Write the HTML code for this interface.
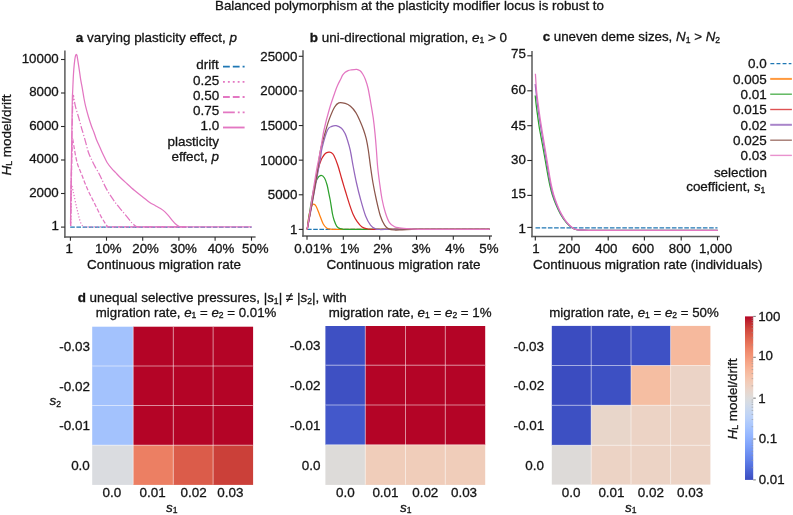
<!DOCTYPE html>
<html><head><meta charset="utf-8"><title>Balanced polymorphism figure</title>
<style>html,body{margin:0;padding:0;background:#fff;}body{width:793px;height:515px;overflow:hidden;font-family:"Liberation Sans", sans-serif;}svg{display:block;will-change:transform;}</style>
</head><body>
<svg width="793" height="515" viewBox="0 0 793 515" font-family='"Liberation Sans", sans-serif'><text x="215.01" y="10.20" font-size="13.34" text-anchor="start" fill="#141414" stroke="#141414" stroke-width="0.30" >Balanced polymorphism at the plasticity modifier locus is robust to</text>
<text x="75.86" y="42.20" font-size="13.45" text-anchor="start" fill="#141414" stroke="#141414" stroke-width="0.30" ><tspan font-weight="bold">a</tspan> varying plasticity effect, <tspan font-style="italic">p</tspan></text>
<line x1="64.90" y1="50.40" x2="64.90" y2="237.65" stroke="#5a5a5a" stroke-width="1.50" />
<line x1="64.15" y1="236.90" x2="255.60" y2="236.90" stroke="#5a5a5a" stroke-width="1.50" />
<line x1="61.00" y1="59.50" x2="64.90" y2="59.50" stroke="#2a2a2a" stroke-width="1.10" />
<text x="21.73" y="62.50" font-size="13.30" text-anchor="start" fill="#141414" stroke="#141414" stroke-width="0.30" >10000</text>
<line x1="61.00" y1="93.00" x2="64.90" y2="93.00" stroke="#2a2a2a" stroke-width="1.10" />
<text x="29.14" y="96.00" font-size="13.30" text-anchor="start" fill="#141414" stroke="#141414" stroke-width="0.30" >8000</text>
<line x1="61.00" y1="126.50" x2="64.90" y2="126.50" stroke="#2a2a2a" stroke-width="1.10" />
<text x="29.14" y="129.50" font-size="13.30" text-anchor="start" fill="#141414" stroke="#141414" stroke-width="0.30" >6000</text>
<line x1="61.00" y1="160.00" x2="64.90" y2="160.00" stroke="#2a2a2a" stroke-width="1.10" />
<text x="29.14" y="163.00" font-size="13.30" text-anchor="start" fill="#141414" stroke="#141414" stroke-width="0.30" >4000</text>
<line x1="61.00" y1="193.50" x2="64.90" y2="193.50" stroke="#2a2a2a" stroke-width="1.10" />
<text x="29.14" y="196.50" font-size="13.30" text-anchor="start" fill="#141414" stroke="#141414" stroke-width="0.30" >2000</text>
<line x1="61.00" y1="227.10" x2="64.90" y2="227.10" stroke="#2a2a2a" stroke-width="1.10" />
<text x="51.46" y="230.10" font-size="13.30" text-anchor="start" fill="#141414" stroke="#141414" stroke-width="0.30" >1</text>
<line x1="70.40" y1="236.90" x2="70.40" y2="240.70" stroke="#2a2a2a" stroke-width="1.10" />
<text x="65.49" y="253.00" font-size="13.30" text-anchor="start" fill="#141414" stroke="#141414" stroke-width="0.30" >1</text>
<line x1="106.50" y1="236.90" x2="106.50" y2="240.70" stroke="#2a2a2a" stroke-width="1.10" />
<text x="94.99" y="253.00" font-size="13.30" text-anchor="start" fill="#141414" stroke="#141414" stroke-width="0.30" >10%</text>
<line x1="142.70" y1="236.90" x2="142.70" y2="240.70" stroke="#2a2a2a" stroke-width="1.10" />
<text x="132.24" y="253.00" font-size="13.30" text-anchor="start" fill="#141414" stroke="#141414" stroke-width="0.30" >20%</text>
<line x1="178.90" y1="236.90" x2="178.90" y2="240.70" stroke="#2a2a2a" stroke-width="1.10" />
<text x="170.29" y="253.00" font-size="13.30" text-anchor="start" fill="#141414" stroke="#141414" stroke-width="0.30" >30%</text>
<line x1="215.10" y1="236.90" x2="215.10" y2="240.70" stroke="#2a2a2a" stroke-width="1.10" />
<text x="207.69" y="253.00" font-size="13.30" text-anchor="start" fill="#141414" stroke="#141414" stroke-width="0.30" >40%</text>
<line x1="251.50" y1="236.90" x2="251.50" y2="240.70" stroke="#2a2a2a" stroke-width="1.10" />
<text x="242.07" y="253.00" font-size="13.30" text-anchor="start" fill="#141414" stroke="#141414" stroke-width="0.30" >50%</text>
<text x="87.01" y="269.00" font-size="13.45" text-anchor="start" fill="#141414" stroke="#141414" stroke-width="0.30" >Continuous migration rate</text>
<text transform="translate(10.8,135) rotate(-90)" font-size="13.45" text-anchor="middle" fill="#141414" stroke="#141414" stroke-width="0.30"><tspan font-style="italic">H</tspan><tspan font-size="8.6" dy="1.6">L</tspan><tspan dy="-1.6">&#8203;</tspan> model/drift</text>
<line x1="70.20" y1="227.10" x2="251.60" y2="227.10" stroke="#1f77b4" stroke-width="1.25" stroke-dasharray="4.6,1.6"/>
<path d="M70.50,224.10 C70.55,220.08 70.70,207.35 70.80,200.00 C70.90,192.65 70.98,187.50 71.10,180.00 C71.22,172.50 71.37,163.33 71.50,155.00 C71.63,146.67 71.77,139.17 71.90,130.00 C72.03,120.83 72.17,106.53 72.30,100.00 C72.43,93.47 72.55,94.28 72.70,90.80 C72.85,87.32 73.02,82.67 73.20,79.10 C73.38,75.53 73.53,72.63 73.80,69.40 C74.07,66.17 74.50,62.02 74.80,59.70 C75.10,57.38 75.35,56.38 75.60,55.50 C75.85,54.62 76.07,54.40 76.30,54.40 C76.53,54.40 76.77,54.62 77.00,55.50 C77.23,56.38 77.33,57.38 77.70,59.70 C78.07,62.02 78.72,66.17 79.20,69.40 C79.68,72.63 80.07,75.87 80.60,79.10 C81.13,82.33 81.83,85.57 82.40,88.80 C82.97,92.03 83.45,95.52 84.00,98.50 C84.55,101.48 84.93,103.57 85.70,106.70 C86.47,109.83 87.62,114.00 88.60,117.30 C89.58,120.60 90.70,123.97 91.60,126.50 C92.50,129.03 93.20,130.33 94.00,132.50 C94.80,134.67 95.38,136.95 96.40,139.50 C97.42,142.05 98.90,145.13 100.10,147.80 C101.30,150.47 102.43,153.05 103.60,155.50 C104.77,157.95 105.73,160.30 107.10,162.50 C108.47,164.70 110.38,167.02 111.80,168.70 C113.22,170.38 114.32,171.27 115.60,172.60 C116.88,173.93 117.80,175.03 119.50,176.70 C121.20,178.37 123.28,180.30 125.80,182.60 C128.32,184.90 131.68,188.03 134.60,190.50 C137.52,192.97 140.78,195.42 143.30,197.40 C145.82,199.38 147.73,201.05 149.70,202.40 C151.67,203.75 153.30,204.47 155.10,205.50 C156.90,206.53 158.82,207.50 160.50,208.60 C162.18,209.70 163.77,210.80 165.20,212.10 C166.63,213.40 167.93,215.03 169.10,216.40 C170.27,217.77 171.17,219.07 172.20,220.30 C173.23,221.53 174.27,222.83 175.30,223.80 C176.33,224.77 177.50,225.60 178.40,226.10 C179.30,226.60 179.43,226.68 180.70,226.80 C181.97,226.92 185.12,226.80 186.00,226.80 L251.6,226.8" fill="none" stroke="#e377c2" stroke-width="1.25" stroke-linejoin="round" />
<path d="M70.60,226.00 C70.67,221.67 70.83,211.00 71.00,200.00 C71.17,189.00 71.38,173.33 71.60,160.00 C71.82,146.67 72.05,130.67 72.30,120.00 C72.55,109.33 72.73,99.00 73.10,96.00 C73.47,93.00 74.02,99.90 74.50,102.00 C74.98,104.10 75.27,105.88 76.00,108.60 C76.73,111.32 77.93,114.90 78.90,118.30 C79.87,121.70 81.18,126.80 81.80,129.00 C82.42,131.20 81.98,129.38 82.60,131.50 C83.22,133.62 84.53,138.23 85.50,141.70 C86.47,145.17 87.43,149.40 88.40,152.30 C89.37,155.20 90.17,156.67 91.30,159.10 C92.43,161.53 93.90,164.47 95.20,166.90 C96.50,169.33 98.08,171.80 99.10,173.70 C100.12,175.60 100.08,175.77 101.30,178.30 C102.52,180.83 104.67,185.72 106.40,188.90 C108.13,192.08 109.92,194.73 111.70,197.40 C113.48,200.07 115.32,202.58 117.10,204.90 C118.88,207.22 120.63,209.17 122.40,211.30 C124.17,213.43 126.10,215.75 127.70,217.70 C129.30,219.65 130.83,221.72 132.00,223.00 C133.17,224.28 133.95,224.77 134.70,225.40 C135.45,226.03 136.20,226.57 136.50,226.80 L186,226.8" fill="none" stroke="#e377c2" stroke-width="1.25" stroke-dasharray="7.5,1.9,1.2,1.9" stroke-linejoin="round" />
<path d="M70.60,226.00 C70.70,220.00 70.98,201.83 71.20,190.00 C71.42,178.17 71.70,163.47 71.90,155.00 C72.10,146.53 72.08,140.78 72.40,139.20 C72.72,137.62 73.32,142.98 73.80,145.50 C74.28,148.02 74.73,151.38 75.30,154.30 C75.87,157.22 76.47,160.42 77.20,163.00 C77.93,165.58 78.85,167.63 79.70,169.80 C80.55,171.97 81.40,173.72 82.30,176.00 C83.20,178.28 84.10,181.00 85.10,183.50 C86.10,186.00 87.23,188.68 88.30,191.00 C89.37,193.32 90.43,195.27 91.50,197.40 C92.57,199.53 93.63,201.67 94.70,203.80 C95.77,205.93 96.83,208.07 97.90,210.20 C98.97,212.33 100.03,214.65 101.10,216.60 C102.17,218.55 103.42,220.48 104.30,221.90 C105.18,223.32 105.78,224.28 106.40,225.10 C107.02,225.92 107.73,226.52 108.00,226.80 L186,226.8" fill="none" stroke="#e377c2" stroke-width="1.25" stroke-dasharray="4.3,1.9" stroke-linejoin="round" />
<path d="M70.60,226.00 C70.67,222.50 70.82,211.63 71.00,205.00 C71.18,198.37 71.32,188.35 71.70,186.20 C72.08,184.05 72.77,189.88 73.30,192.10 C73.83,194.32 74.37,197.02 74.90,199.50 C75.43,201.98 75.97,204.68 76.50,207.00 C77.03,209.32 77.57,211.27 78.10,213.40 C78.63,215.53 79.17,218.02 79.70,219.80 C80.23,221.58 80.77,223.08 81.30,224.10 C81.83,225.12 82.28,225.45 82.90,225.90 C83.52,226.35 84.65,226.65 85.00,226.80 L186,226.8" fill="none" stroke="#e377c2" stroke-width="1.25" stroke-dasharray="1.2,1.9" stroke-linejoin="round" />
<text x="196.37" y="69.40" font-size="13.45" text-anchor="start" fill="#141414" stroke="#141414" stroke-width="0.30" >drift</text>
<path d="M223.0,66.60 L244.6,66.60" fill="none" stroke="#1f77b4" stroke-width="1.85" stroke-dasharray="6.8,3" stroke-linejoin="round" />
<text x="193.09" y="84.70" font-size="13.45" text-anchor="start" fill="#141414" stroke="#141414" stroke-width="0.30" >0.25</text>
<path d="M223.0,81.90 L244.6,81.90" fill="none" stroke="#e377c2" stroke-width="1.85" stroke-dasharray="1.85,3.05" stroke-linejoin="round" />
<text x="193.05" y="99.80" font-size="13.45" text-anchor="start" fill="#141414" stroke="#141414" stroke-width="0.30" >0.50</text>
<path d="M223.0,97.00 L244.6,97.00" fill="none" stroke="#e377c2" stroke-width="1.85" stroke-dasharray="6.8,3" stroke-linejoin="round" />
<text x="193.09" y="115.10" font-size="13.45" text-anchor="start" fill="#141414" stroke="#141414" stroke-width="0.30" >0.75</text>
<path d="M223.0,112.30 L244.6,112.30" fill="none" stroke="#e377c2" stroke-width="1.85" stroke-dasharray="11.8,3,1.85,3" stroke-linejoin="round" />
<text x="200.53" y="130.30" font-size="13.45" text-anchor="start" fill="#141414" stroke="#141414" stroke-width="0.30" >1.0</text>
<path d="M223.0,127.50 L244.6,127.50" fill="none" stroke="#e377c2" stroke-width="1.85" stroke-linejoin="round" />
<text x="167.46" y="146.40" font-size="13.45" text-anchor="start" fill="#141414" stroke="#141414" stroke-width="0.30" >plasticity</text>
<text x="219.00" y="160.90" font-size="13.45" text-anchor="end" fill="#141414" stroke="#141414" stroke-width="0.30" >effect, <tspan font-style="italic">p</tspan></text>
<text x="309.84" y="41.60" font-size="13.45" text-anchor="start" fill="#141414" stroke="#141414" stroke-width="0.30" ><tspan font-weight="bold">b</tspan> uni-directional migration, <tspan font-style="italic">e</tspan><tspan font-size="8.6" dy="1.6">1</tspan><tspan dy="-1.6">&#8203;</tspan> &gt; 0</text>
<line x1="303.00" y1="50.30" x2="303.00" y2="236.75" stroke="#5a5a5a" stroke-width="1.50" />
<line x1="302.25" y1="236.00" x2="492.00" y2="236.00" stroke="#5a5a5a" stroke-width="1.50" />
<line x1="298.80" y1="56.30" x2="303.00" y2="56.30" stroke="#2a2a2a" stroke-width="1.10" />
<text x="260.33" y="60.70" font-size="13.30" text-anchor="start" fill="#141414" stroke="#141414" stroke-width="0.30" >25000</text>
<line x1="298.80" y1="90.92" x2="303.00" y2="90.92" stroke="#2a2a2a" stroke-width="1.10" />
<text x="260.33" y="95.32" font-size="13.30" text-anchor="start" fill="#141414" stroke="#141414" stroke-width="0.30" >20000</text>
<line x1="298.80" y1="125.54" x2="303.00" y2="125.54" stroke="#2a2a2a" stroke-width="1.10" />
<text x="260.33" y="129.94" font-size="13.30" text-anchor="start" fill="#141414" stroke="#141414" stroke-width="0.30" >15000</text>
<line x1="298.80" y1="160.16" x2="303.00" y2="160.16" stroke="#2a2a2a" stroke-width="1.10" />
<text x="260.33" y="164.56" font-size="13.30" text-anchor="start" fill="#141414" stroke="#141414" stroke-width="0.30" >10000</text>
<line x1="298.80" y1="194.78" x2="303.00" y2="194.78" stroke="#2a2a2a" stroke-width="1.10" />
<text x="267.74" y="199.18" font-size="13.30" text-anchor="start" fill="#141414" stroke="#141414" stroke-width="0.30" >5000</text>
<line x1="298.80" y1="229.40" x2="303.00" y2="229.40" stroke="#2a2a2a" stroke-width="1.10" />
<text x="290.06" y="233.80" font-size="13.30" text-anchor="start" fill="#141414" stroke="#141414" stroke-width="0.30" >1</text>
<line x1="307.00" y1="236.00" x2="307.00" y2="239.80" stroke="#2a2a2a" stroke-width="1.10" />
<text x="294.28" y="253.00" font-size="13.30" text-anchor="start" fill="#141414" stroke="#141414" stroke-width="0.30" >0.01%</text>
<line x1="343.30" y1="236.00" x2="343.30" y2="239.80" stroke="#2a2a2a" stroke-width="1.10" />
<text x="339.99" y="253.00" font-size="13.30" text-anchor="start" fill="#141414" stroke="#141414" stroke-width="0.30" >1%</text>
<line x1="379.70" y1="236.00" x2="379.70" y2="239.80" stroke="#2a2a2a" stroke-width="1.10" />
<text x="373.13" y="253.00" font-size="13.30" text-anchor="start" fill="#141414" stroke="#141414" stroke-width="0.30" >2%</text>
<line x1="416.50" y1="236.00" x2="416.50" y2="239.80" stroke="#2a2a2a" stroke-width="1.10" />
<text x="411.39" y="253.00" font-size="13.30" text-anchor="start" fill="#141414" stroke="#141414" stroke-width="0.30" >3%</text>
<line x1="453.30" y1="236.00" x2="453.30" y2="239.80" stroke="#2a2a2a" stroke-width="1.10" />
<text x="445.29" y="253.00" font-size="13.30" text-anchor="start" fill="#141414" stroke="#141414" stroke-width="0.30" >4%</text>
<line x1="489.70" y1="236.00" x2="489.70" y2="239.80" stroke="#2a2a2a" stroke-width="1.10" />
<text x="479.37" y="253.00" font-size="13.30" text-anchor="start" fill="#141414" stroke="#141414" stroke-width="0.30" >5%</text>
<text x="326.51" y="269.00" font-size="13.45" text-anchor="start" fill="#141414" stroke="#141414" stroke-width="0.30" >Continuous migration rate</text>
<line x1="307.00" y1="229.40" x2="489.70" y2="229.40" stroke="#1f77b4" stroke-width="1.25" stroke-dasharray="4.6,1.6"/>
<path d="M307.20,229.40 C307.52,226.98 308.35,218.77 309.10,214.90 C309.85,211.03 310.97,208.00 311.70,206.20 C312.43,204.40 312.77,204.10 313.50,204.10 C314.23,204.10 315.08,204.40 316.10,206.20 C317.12,208.00 318.43,211.98 319.60,214.90 C320.77,217.82 321.93,221.52 323.10,223.70 C324.27,225.88 325.58,227.13 326.60,228.00 C327.62,228.87 327.97,228.67 329.20,228.90 C330.43,229.13 333.20,229.32 334.00,229.40 L489.7,229.4" fill="none" stroke="#ff7f0e" stroke-width="1.25" stroke-linejoin="round" />
<path d="M307.20,229.40 C307.58,226.67 308.45,219.48 309.50,213.00 C310.55,206.52 312.25,196.15 313.50,190.50 C314.75,184.85 315.75,181.63 317.00,179.10 C318.25,176.57 319.75,175.48 321.00,175.30 C322.25,175.12 323.48,176.38 324.50,178.00 C325.52,179.62 326.38,182.47 327.10,185.00 C327.82,187.53 328.27,190.62 328.80,193.20 C329.33,195.78 329.68,197.03 330.30,200.50 C330.92,203.97 331.85,210.67 332.50,214.00 C333.15,217.33 333.48,218.45 334.20,220.50 C334.92,222.55 335.83,224.93 336.80,226.30 C337.77,227.67 338.63,228.18 340.00,228.70 C341.37,229.22 344.17,229.28 345.00,229.40 L489.7,229.4" fill="none" stroke="#2ca02c" stroke-width="1.25" stroke-linejoin="round" />
<path d="M307.20,229.40 C307.75,226.33 309.37,217.57 310.50,211.00 C311.63,204.43 312.83,196.50 314.00,190.00 C315.17,183.50 316.50,176.50 317.50,172.00 C318.50,167.50 319.23,165.33 320.00,163.00 C320.77,160.67 321.22,159.58 322.10,158.00 C322.98,156.42 324.17,154.48 325.30,153.50 C326.43,152.52 327.95,152.27 328.90,152.10 C329.85,151.93 330.17,151.93 331.00,152.50 C331.83,153.07 332.77,153.38 333.90,155.50 C335.03,157.62 336.50,161.32 337.80,165.20 C339.10,169.08 340.42,174.42 341.70,178.80 C342.98,183.18 344.22,187.28 345.50,191.50 C346.78,195.72 348.10,200.22 349.40,204.10 C350.70,207.98 352.00,211.88 353.30,214.80 C354.60,217.72 355.75,219.57 357.20,221.60 C358.65,223.63 360.22,225.77 362.00,227.00 C363.78,228.23 365.73,228.60 367.90,229.00 C370.07,229.40 373.82,229.33 375.00,229.40 L489.7,229.4" fill="none" stroke="#d62728" stroke-width="1.25" stroke-linejoin="round" />
<path d="M307.20,229.40 C307.78,226.40 309.52,217.63 310.70,211.40 C311.88,205.17 313.12,198.40 314.30,192.00 C315.48,185.60 316.77,178.67 317.80,173.00 C318.83,167.33 319.77,162.27 320.50,158.00 C321.23,153.73 321.03,152.07 322.20,147.40 C323.37,142.73 325.90,133.50 327.50,130.00 C329.10,126.50 330.35,127.13 331.80,126.40 C333.25,125.67 334.58,125.30 336.20,125.60 C337.82,125.90 340.03,126.90 341.50,128.20 C342.97,129.50 344.08,131.65 345.00,133.40 C345.92,135.15 346.13,135.93 347.00,138.70 C347.87,141.47 349.17,145.37 350.20,150.00 C351.23,154.63 352.15,161.00 353.20,166.50 C354.25,172.00 355.27,177.50 356.50,183.00 C357.73,188.50 359.08,194.00 360.60,199.50 C362.12,205.00 363.95,211.73 365.60,216.00 C367.25,220.27 368.85,222.95 370.50,225.10 C372.15,227.25 373.98,228.17 375.50,228.90 C377.02,229.63 377.85,229.42 379.60,229.50 C381.35,229.58 384.93,229.42 386.00,229.40 L489.7,229.4" fill="none" stroke="#9467bd" stroke-width="1.25" stroke-linejoin="round" />
<path d="M307.20,229.40 C307.75,226.40 309.33,217.80 310.50,211.40 C311.67,205.00 313.02,197.90 314.20,191.00 C315.38,184.10 316.55,176.83 317.60,170.00 C318.65,163.17 319.28,156.10 320.50,150.00 C321.72,143.90 323.45,138.50 324.90,133.40 C326.35,128.30 327.60,123.77 329.20,119.40 C330.80,115.03 332.90,109.97 334.50,107.20 C336.10,104.43 337.02,103.43 338.80,102.80 C340.58,102.17 343.25,102.82 345.20,103.40 C347.15,103.98 348.75,104.80 350.50,106.30 C352.25,107.80 354.10,109.92 355.70,112.40 C357.30,114.88 358.78,118.27 360.10,121.20 C361.42,124.13 362.58,127.08 363.60,130.00 C364.62,132.92 365.42,135.37 366.20,138.70 C366.98,142.03 367.58,145.37 368.30,150.00 C369.02,154.63 369.72,161.00 370.50,166.50 C371.28,172.00 372.03,177.50 373.00,183.00 C373.97,188.50 375.07,194.00 376.30,199.50 C377.53,205.00 379.02,211.73 380.40,216.00 C381.78,220.27 383.22,222.95 384.60,225.10 C385.98,227.25 387.05,228.08 388.70,228.90 C390.35,229.72 392.28,229.85 394.50,230.00 C396.72,230.15 399.08,229.90 402.00,229.80 C404.92,229.70 410.33,229.47 412.00,229.40 L489.7,229.4" fill="none" stroke="#8c564b" stroke-width="1.25" stroke-linejoin="round" />
<path d="M307.20,229.40 C307.67,226.40 308.95,218.18 310.00,211.40 C311.05,204.62 312.33,195.98 313.50,188.70 C314.67,181.42 315.83,174.12 317.00,167.70 C318.17,161.28 319.33,156.48 320.50,150.20 C321.67,143.92 322.52,136.87 324.00,130.00 C325.48,123.13 327.53,115.42 329.40,109.00 C331.27,102.58 333.77,95.58 335.20,91.50 C336.63,87.42 337.10,86.53 338.00,84.50 C338.90,82.47 339.83,80.85 340.60,79.30 C341.37,77.75 341.83,76.38 342.60,75.20 C343.37,74.02 344.30,72.95 345.20,72.20 C346.10,71.45 347.12,71.07 348.00,70.70 C348.88,70.33 349.07,70.23 350.50,70.00 C351.93,69.77 355.00,69.17 356.60,69.30 C358.20,69.43 359.08,70.02 360.10,70.80 C361.12,71.58 361.83,72.60 362.70,74.00 C363.57,75.40 364.42,76.87 365.30,79.20 C366.18,81.53 367.12,84.20 368.00,88.00 C368.88,91.80 369.73,97.05 370.60,102.00 C371.47,106.95 372.47,112.47 373.20,117.70 C373.93,122.93 374.47,128.02 375.00,133.40 C375.53,138.78 375.97,144.48 376.40,150.00 C376.83,155.52 377.07,161.00 377.60,166.50 C378.13,172.00 378.85,177.50 379.60,183.00 C380.35,188.50 381.13,194.55 382.10,199.50 C383.07,204.45 384.17,208.85 385.40,212.70 C386.63,216.55 387.98,220.27 389.50,222.60 C391.02,224.93 392.85,225.82 394.50,226.70 C396.15,227.58 396.82,227.53 399.40,227.90 C401.98,228.27 406.57,228.65 410.00,228.90 C413.43,229.15 418.33,229.32 420.00,229.40 L489.7,229.4" fill="none" stroke="#e377c2" stroke-width="1.25" stroke-linejoin="round" />
<text x="542.66" y="41.10" font-size="13.33" text-anchor="start" fill="#141414" stroke="#141414" stroke-width="0.30" ><tspan font-weight="bold">c</tspan> uneven deme sizes, <tspan font-style="italic">N</tspan><tspan font-size="8.6" dy="1.6">1</tspan><tspan dy="-1.6">&#8203;</tspan> &gt; <tspan font-style="italic">N</tspan><tspan font-size="8.6" dy="1.6">2</tspan><tspan dy="-1.6">&#8203;</tspan></text>
<line x1="532.00" y1="51.10" x2="532.00" y2="237.35" stroke="#5a5a5a" stroke-width="1.50" />
<line x1="531.25" y1="236.60" x2="719.80" y2="236.60" stroke="#5a5a5a" stroke-width="1.50" />
<line x1="527.30" y1="55.80" x2="532.00" y2="55.80" stroke="#2a2a2a" stroke-width="1.10" />
<text x="511.07" y="57.90" font-size="13.30" text-anchor="start" fill="#141414" stroke="#141414" stroke-width="0.30" >75</text>
<line x1="527.30" y1="90.80" x2="532.00" y2="90.80" stroke="#2a2a2a" stroke-width="1.10" />
<text x="511.03" y="93.80" font-size="13.30" text-anchor="start" fill="#141414" stroke="#141414" stroke-width="0.30" >60</text>
<line x1="527.30" y1="125.70" x2="532.00" y2="125.70" stroke="#2a2a2a" stroke-width="1.10" />
<text x="511.07" y="129.80" font-size="13.30" text-anchor="start" fill="#141414" stroke="#141414" stroke-width="0.30" >45</text>
<line x1="527.30" y1="160.50" x2="532.00" y2="160.50" stroke="#2a2a2a" stroke-width="1.10" />
<text x="511.03" y="163.80" font-size="13.30" text-anchor="start" fill="#141414" stroke="#141414" stroke-width="0.30" >30</text>
<line x1="527.30" y1="195.40" x2="532.00" y2="195.40" stroke="#2a2a2a" stroke-width="1.10" />
<text x="511.07" y="198.40" font-size="13.30" text-anchor="start" fill="#141414" stroke="#141414" stroke-width="0.30" >15</text>
<line x1="527.30" y1="227.40" x2="532.00" y2="227.40" stroke="#2a2a2a" stroke-width="1.10" />
<text x="518.56" y="232.60" font-size="13.30" text-anchor="start" fill="#141414" stroke="#141414" stroke-width="0.30" >1</text>
<line x1="535.30" y1="236.60" x2="535.30" y2="240.40" stroke="#2a2a2a" stroke-width="1.10" />
<text x="532.19" y="253.00" font-size="13.30" text-anchor="start" fill="#141414" stroke="#141414" stroke-width="0.30" >1</text>
<line x1="571.90" y1="236.60" x2="571.90" y2="240.40" stroke="#2a2a2a" stroke-width="1.10" />
<text x="558.13" y="253.00" font-size="13.30" text-anchor="start" fill="#141414" stroke="#141414" stroke-width="0.30" >200</text>
<line x1="608.20" y1="236.60" x2="608.20" y2="240.40" stroke="#2a2a2a" stroke-width="1.10" />
<text x="595.29" y="253.00" font-size="13.30" text-anchor="start" fill="#141414" stroke="#141414" stroke-width="0.30" >400</text>
<line x1="644.40" y1="236.60" x2="644.40" y2="240.40" stroke="#2a2a2a" stroke-width="1.10" />
<text x="631.92" y="253.00" font-size="13.30" text-anchor="start" fill="#141414" stroke="#141414" stroke-width="0.30" >600</text>
<line x1="681.20" y1="236.60" x2="681.20" y2="240.40" stroke="#2a2a2a" stroke-width="1.10" />
<text x="668.83" y="253.00" font-size="13.30" text-anchor="start" fill="#141414" stroke="#141414" stroke-width="0.30" >800</text>
<line x1="717.50" y1="236.60" x2="717.50" y2="240.40" stroke="#2a2a2a" stroke-width="1.10" />
<text x="698.89" y="253.00" font-size="13.30" text-anchor="start" fill="#141414" stroke="#141414" stroke-width="0.30" >1,000</text>
<text x="533.11" y="268.90" font-size="13.45" text-anchor="start" fill="#141414" stroke="#141414" stroke-width="0.30" >Continuous migration rate (individuals)</text>
<line x1="535.50" y1="227.90" x2="717.50" y2="227.90" stroke="#1f77b4" stroke-width="1.25" stroke-dasharray="4.6,1.6"/>
<path d="M535.20,95.50 C535.37,97.08 535.82,101.75 536.20,105.00 C536.58,108.25 537.05,111.67 537.50,115.00 C537.95,118.33 538.53,122.50 538.90,125.00 C539.27,127.50 539.10,126.67 539.70,130.00 C540.30,133.33 541.58,140.00 542.50,145.00 C543.42,150.00 544.32,155.00 545.20,160.00 C546.08,165.00 547.03,170.83 547.80,175.00 C548.57,179.17 549.05,181.72 549.80,185.00 C550.55,188.28 551.28,191.47 552.30,194.70 C553.32,197.93 554.53,201.17 555.90,204.40 C557.27,207.63 558.73,211.02 560.50,214.10 C562.27,217.18 564.48,220.55 566.50,222.90 C568.52,225.25 570.75,227.03 572.60,228.20 C574.45,229.37 575.73,229.57 577.60,229.90 C579.47,230.23 581.73,230.13 583.80,230.20 C585.87,230.27 588.97,230.28 590.00,230.30 L717.8,230.3" fill="none" stroke="#2ca02c" stroke-width="1.25" stroke-linejoin="round" />
<path d="M535.20,84.00 C535.30,85.00 535.42,86.50 535.80,90.00 C536.18,93.50 536.92,100.33 537.50,105.00 C538.08,109.67 538.68,113.83 539.30,118.00 C539.92,122.17 540.47,125.50 541.20,130.00 C541.93,134.50 542.87,140.00 543.70,145.00 C544.53,150.00 545.35,155.00 546.20,160.00 C547.05,165.00 548.07,170.83 548.80,175.00 C549.53,179.17 549.90,181.72 550.60,185.00 C551.30,188.28 552.02,191.47 553.00,194.70 C553.98,197.93 555.17,201.17 556.50,204.40 C557.83,207.63 559.27,211.02 561.00,214.10 C562.73,217.18 564.92,220.55 566.90,222.90 C568.88,225.25 571.08,227.03 572.90,228.20 C574.72,229.37 575.98,229.57 577.80,229.90 C579.62,230.23 581.77,230.13 583.80,230.20 C585.83,230.27 588.97,230.28 590.00,230.30 L717.8,230.3" fill="none" stroke="#9467bd" stroke-width="1.25" stroke-linejoin="round" />
<path d="M535.40,73.80 C535.58,76.50 536.02,84.80 536.50,90.00 C536.98,95.20 537.70,100.33 538.30,105.00 C538.90,109.67 539.48,113.83 540.10,118.00 C540.72,122.17 541.27,125.50 542.00,130.00 C542.73,134.50 543.67,140.00 544.50,145.00 C545.33,150.00 546.17,155.00 547.00,160.00 C547.83,165.00 548.78,170.83 549.50,175.00 C550.22,179.17 550.60,181.72 551.30,185.00 C552.00,188.28 552.73,191.47 553.70,194.70 C554.67,197.93 555.80,201.17 557.10,204.40 C558.40,207.63 559.80,211.02 561.50,214.10 C563.20,217.18 565.35,220.55 567.30,222.90 C569.25,225.25 571.42,227.03 573.20,228.20 C574.98,229.37 576.23,229.57 578.00,229.90 C579.77,230.23 581.80,230.13 583.80,230.20 C585.80,230.27 588.97,230.28 590.00,230.30 L717.8,230.3" fill="none" stroke="#e377c2" stroke-width="1.25" stroke-linejoin="round" />
<text x="747.93" y="68.40" font-size="13.45" text-anchor="start" fill="#141414" stroke="#141414" stroke-width="0.30" >0.0</text>
<path d="M770.4,63.60 L791.4,63.60" fill="none" stroke="#1f77b4" stroke-width="1.25" stroke-dasharray="3.9,2.2" stroke-linejoin="round" />
<text x="733.01" y="83.70" font-size="13.45" text-anchor="start" fill="#141414" stroke="#141414" stroke-width="0.30" >0.005</text>
<path d="M770.2,78.90 L791.9,78.90" fill="none" stroke="#ff7f0e" stroke-width="2.00" stroke-linejoin="round" stroke-opacity="0.8"/>
<text x="740.59" y="99.00" font-size="13.45" text-anchor="start" fill="#141414" stroke="#141414" stroke-width="0.30" >0.01</text>
<path d="M770.2,94.20 L791.9,94.20" fill="none" stroke="#2ca02c" stroke-width="1.40" stroke-linejoin="round" stroke-opacity="0.8"/>
<text x="733.01" y="114.30" font-size="13.45" text-anchor="start" fill="#141414" stroke="#141414" stroke-width="0.30" >0.015</text>
<path d="M770.2,109.50 L791.9,109.50" fill="none" stroke="#d62728" stroke-width="1.40" stroke-linejoin="round" stroke-opacity="0.8"/>
<text x="740.60" y="129.60" font-size="13.45" text-anchor="start" fill="#141414" stroke="#141414" stroke-width="0.30" >0.02</text>
<path d="M770.2,124.80 L791.9,124.80" fill="none" stroke="#9467bd" stroke-width="2.00" stroke-linejoin="round" stroke-opacity="0.8"/>
<text x="733.01" y="145.00" font-size="13.45" text-anchor="start" fill="#141414" stroke="#141414" stroke-width="0.30" >0.025</text>
<path d="M770.2,140.20 L791.9,140.20" fill="none" stroke="#8c564b" stroke-width="1.40" stroke-linejoin="round" stroke-opacity="0.8"/>
<text x="740.52" y="160.20" font-size="13.45" text-anchor="start" fill="#141414" stroke="#141414" stroke-width="0.30" >0.03</text>
<path d="M770.2,155.40 L791.9,155.40" fill="none" stroke="#e377c2" stroke-width="1.40" stroke-linejoin="round" stroke-opacity="0.8"/>
<text x="713.89" y="176.60" font-size="13.45" text-anchor="start" fill="#141414" stroke="#141414" stroke-width="0.30" >selection</text>
<text x="765.40" y="191.40" font-size="13.45" text-anchor="end" fill="#141414" stroke="#141414" stroke-width="0.30" >coefficient, <tspan font-style="italic">s</tspan><tspan font-size="8.6" dy="1.6">1</tspan><tspan dy="-1.6">&#8203;</tspan></text>
<text x="77.66" y="302.10" font-size="13.45" text-anchor="start" fill="#141414" stroke="#141414" stroke-width="0.30" ><tspan font-weight="bold">d</tspan> unequal selective pressures, |<tspan font-style="italic">s</tspan><tspan font-size="8.6" dy="1.6">1</tspan><tspan dy="-1.6">&#8203;</tspan>| &#8800; |<tspan font-style="italic">s</tspan><tspan font-size="8.6" dy="1.6">2</tspan><tspan dy="-1.6">&#8203;</tspan>|, with</text>
<text x="95.82" y="316.60" font-size="13.26" text-anchor="start" fill="#141414" stroke="#141414" stroke-width="0.30" >migration rate, <tspan font-style="italic">e</tspan><tspan font-size="8.6" dy="1.6">1</tspan><tspan dy="-1.6">&#8203;</tspan> = <tspan font-style="italic">e</tspan><tspan font-size="8.6" dy="1.6">2</tspan><tspan dy="-1.6">&#8203;</tspan> = 0.01%</text>
<text x="328.82" y="316.60" font-size="13.32" text-anchor="start" fill="#141414" stroke="#141414" stroke-width="0.30" >migration rate, <tspan font-style="italic">e</tspan><tspan font-size="8.6" dy="1.6">1</tspan><tspan dy="-1.6">&#8203;</tspan> = <tspan font-style="italic">e</tspan><tspan font-size="8.6" dy="1.6">2</tspan><tspan dy="-1.6">&#8203;</tspan> = 1%</text>
<text x="549.33" y="316.60" font-size="13.25" text-anchor="start" fill="#141414" stroke="#141414" stroke-width="0.30" >migration rate, <tspan font-style="italic">e</tspan><tspan font-size="8.6" dy="1.6">1</tspan><tspan dy="-1.6">&#8203;</tspan> = <tspan font-style="italic">e</tspan><tspan font-size="8.6" dy="1.6">2</tspan><tspan dy="-1.6">&#8203;</tspan> = 50%</text>
<rect x="92.20" y="326.70" width="41.30" height="39.60" fill="#a3c2fd"/>
<rect x="133.20" y="326.70" width="40.40" height="39.60" fill="#b40426"/>
<rect x="173.30" y="326.70" width="40.10" height="39.60" fill="#b40426"/>
<rect x="213.10" y="326.70" width="40.00" height="39.60" fill="#b40426"/>
<rect x="92.20" y="366.00" width="41.30" height="39.80" fill="#a3c2fd"/>
<rect x="133.20" y="366.00" width="40.40" height="39.80" fill="#b40426"/>
<rect x="173.30" y="366.00" width="40.10" height="39.80" fill="#b40426"/>
<rect x="213.10" y="366.00" width="40.00" height="39.80" fill="#b40426"/>
<rect x="92.20" y="405.50" width="41.30" height="40.00" fill="#a3c2fd"/>
<rect x="133.20" y="405.50" width="40.40" height="40.00" fill="#b40426"/>
<rect x="173.30" y="405.50" width="40.10" height="40.00" fill="#b40426"/>
<rect x="213.10" y="405.50" width="40.00" height="40.00" fill="#b40426"/>
<rect x="92.20" y="445.20" width="41.30" height="39.70" fill="#dadce0"/>
<rect x="133.20" y="445.20" width="40.40" height="39.70" fill="#ec7f63"/>
<rect x="173.30" y="445.20" width="40.10" height="39.70" fill="#db5c4a"/>
<rect x="213.10" y="445.20" width="40.00" height="39.70" fill="#cb4039"/>
<line x1="133.20" y1="326.70" x2="133.20" y2="484.60" stroke="#fff" stroke-width="1.00" stroke-opacity="0.5"/>
<line x1="92.20" y1="366.00" x2="252.80" y2="366.00" stroke="#fff" stroke-width="1.00" stroke-opacity="0.5"/>
<line x1="173.30" y1="326.70" x2="173.30" y2="484.60" stroke="#fff" stroke-width="1.00" stroke-opacity="0.5"/>
<line x1="92.20" y1="405.50" x2="252.80" y2="405.50" stroke="#fff" stroke-width="1.00" stroke-opacity="0.5"/>
<line x1="213.10" y1="326.70" x2="213.10" y2="484.60" stroke="#fff" stroke-width="1.00" stroke-opacity="0.5"/>
<line x1="92.20" y1="445.20" x2="252.80" y2="445.20" stroke="#fff" stroke-width="1.00" stroke-opacity="0.5"/>
<text x="59.24" y="351.15" font-size="13.45" text-anchor="start" fill="#141414" stroke="#141414" stroke-width="0.30" >-0.03</text>
<text x="59.32" y="390.55" font-size="13.45" text-anchor="start" fill="#141414" stroke="#141414" stroke-width="0.30" >-0.02</text>
<text x="59.31" y="430.15" font-size="13.45" text-anchor="start" fill="#141414" stroke="#141414" stroke-width="0.30" >-0.01</text>
<text x="71.13" y="469.70" font-size="13.45" text-anchor="start" fill="#141414" stroke="#141414" stroke-width="0.30" >0.0</text>
<text x="102.55" y="497.00" font-size="13.45" text-anchor="start" fill="#141414" stroke="#141414" stroke-width="0.30" >0.0</text>
<text x="139.48" y="497.00" font-size="13.45" text-anchor="start" fill="#141414" stroke="#141414" stroke-width="0.30" >0.01</text>
<text x="180.59" y="497.00" font-size="13.45" text-anchor="start" fill="#141414" stroke="#141414" stroke-width="0.30" >0.02</text>
<text x="217.35" y="497.00" font-size="13.45" text-anchor="start" fill="#141414" stroke="#141414" stroke-width="0.30" >0.03</text>
<text x="166.00" y="512.00" font-size="13.45" text-anchor="start" fill="#141414" stroke="#141414" stroke-width="0.30" ><tspan font-style="italic">s</tspan><tspan font-size="8.6" dy="1.4">1</tspan><tspan dy="-1.4">&#8203;</tspan></text>
<rect x="325.40" y="326.00" width="40.20" height="39.50" fill="#3e50c3"/>
<rect x="365.30" y="326.00" width="40.50" height="39.50" fill="#b40426"/>
<rect x="405.50" y="326.00" width="40.10" height="39.50" fill="#b40426"/>
<rect x="445.30" y="326.00" width="39.90" height="39.50" fill="#b40426"/>
<rect x="325.40" y="365.20" width="40.20" height="40.10" fill="#3e50c3"/>
<rect x="365.30" y="365.20" width="40.50" height="40.10" fill="#b40426"/>
<rect x="405.50" y="365.20" width="40.10" height="40.10" fill="#b40426"/>
<rect x="445.30" y="365.20" width="39.90" height="40.10" fill="#b40426"/>
<rect x="325.40" y="405.00" width="40.20" height="40.10" fill="#4358cb"/>
<rect x="365.30" y="405.00" width="40.50" height="40.10" fill="#b40426"/>
<rect x="405.50" y="405.00" width="40.10" height="40.10" fill="#b40426"/>
<rect x="445.30" y="405.00" width="39.90" height="40.10" fill="#b40426"/>
<rect x="325.40" y="444.80" width="40.20" height="40.10" fill="#dddbd9"/>
<rect x="365.30" y="444.80" width="40.50" height="40.10" fill="#f0cdba"/>
<rect x="405.50" y="444.80" width="40.10" height="40.10" fill="#f0cdba"/>
<rect x="445.30" y="444.80" width="39.90" height="40.10" fill="#f0cdba"/>
<line x1="365.30" y1="326.00" x2="365.30" y2="484.60" stroke="#fff" stroke-width="1.00" stroke-opacity="0.5"/>
<line x1="325.40" y1="365.20" x2="484.90" y2="365.20" stroke="#fff" stroke-width="1.00" stroke-opacity="0.5"/>
<line x1="405.50" y1="326.00" x2="405.50" y2="484.60" stroke="#fff" stroke-width="1.00" stroke-opacity="0.5"/>
<line x1="325.40" y1="405.00" x2="484.90" y2="405.00" stroke="#fff" stroke-width="1.00" stroke-opacity="0.5"/>
<line x1="445.30" y1="326.00" x2="445.30" y2="484.60" stroke="#fff" stroke-width="1.00" stroke-opacity="0.5"/>
<line x1="325.40" y1="444.80" x2="484.90" y2="444.80" stroke="#fff" stroke-width="1.00" stroke-opacity="0.5"/>
<text x="289.84" y="350.40" font-size="13.45" text-anchor="start" fill="#141414" stroke="#141414" stroke-width="0.30" >-0.03</text>
<text x="289.92" y="389.90" font-size="13.45" text-anchor="start" fill="#141414" stroke="#141414" stroke-width="0.30" >-0.02</text>
<text x="289.91" y="429.70" font-size="13.45" text-anchor="start" fill="#141414" stroke="#141414" stroke-width="0.30" >-0.01</text>
<text x="301.73" y="469.50" font-size="13.45" text-anchor="start" fill="#141414" stroke="#141414" stroke-width="0.30" >0.0</text>
<text x="336.05" y="497.00" font-size="13.45" text-anchor="start" fill="#141414" stroke="#141414" stroke-width="0.30" >0.0</text>
<text x="372.38" y="497.00" font-size="13.45" text-anchor="start" fill="#141414" stroke="#141414" stroke-width="0.30" >0.01</text>
<text x="412.19" y="497.00" font-size="13.45" text-anchor="start" fill="#141414" stroke="#141414" stroke-width="0.30" >0.02</text>
<text x="450.95" y="497.00" font-size="13.45" text-anchor="start" fill="#141414" stroke="#141414" stroke-width="0.30" >0.03</text>
<text x="400.00" y="512.00" font-size="13.45" text-anchor="start" fill="#141414" stroke="#141414" stroke-width="0.30" ><tspan font-style="italic">s</tspan><tspan font-size="8.6" dy="1.4">1</tspan><tspan dy="-1.4">&#8203;</tspan></text>
<rect x="551.80" y="325.90" width="39.70" height="39.90" fill="#3b4cc0"/>
<rect x="591.20" y="325.90" width="40.10" height="39.90" fill="#3b4cc0"/>
<rect x="631.00" y="325.90" width="39.90" height="39.90" fill="#3e51c5"/>
<rect x="670.60" y="325.90" width="39.80" height="39.90" fill="#f6b99d"/>
<rect x="551.80" y="365.50" width="39.70" height="40.10" fill="#3b4cc0"/>
<rect x="591.20" y="365.50" width="40.10" height="40.10" fill="#3d50c3"/>
<rect x="631.00" y="365.50" width="39.90" height="40.10" fill="#f5bea2"/>
<rect x="670.60" y="365.50" width="39.80" height="40.10" fill="#ebd3c6"/>
<rect x="551.80" y="405.30" width="39.70" height="40.30" fill="#3d50c3"/>
<rect x="591.20" y="405.30" width="40.10" height="40.30" fill="#e8d6ca"/>
<rect x="631.00" y="405.30" width="39.90" height="40.30" fill="#ecd3c5"/>
<rect x="670.60" y="405.30" width="39.80" height="40.30" fill="#ecd3c5"/>
<rect x="551.80" y="445.30" width="39.70" height="39.30" fill="#dddad8"/>
<rect x="591.20" y="445.30" width="40.10" height="39.30" fill="#ecd3c5"/>
<rect x="631.00" y="445.30" width="39.90" height="39.30" fill="#ecd3c5"/>
<rect x="670.60" y="445.30" width="39.80" height="39.30" fill="#ecd3c5"/>
<line x1="591.20" y1="325.90" x2="591.20" y2="484.30" stroke="#fff" stroke-width="1.00" stroke-opacity="0.5"/>
<line x1="551.80" y1="365.50" x2="710.10" y2="365.50" stroke="#fff" stroke-width="1.00" stroke-opacity="0.5"/>
<line x1="631.00" y1="325.90" x2="631.00" y2="484.30" stroke="#fff" stroke-width="1.00" stroke-opacity="0.5"/>
<line x1="551.80" y1="405.30" x2="710.10" y2="405.30" stroke="#fff" stroke-width="1.00" stroke-opacity="0.5"/>
<line x1="670.60" y1="325.90" x2="670.60" y2="484.30" stroke="#fff" stroke-width="1.00" stroke-opacity="0.5"/>
<line x1="551.80" y1="445.30" x2="710.10" y2="445.30" stroke="#fff" stroke-width="1.00" stroke-opacity="0.5"/>
<text x="513.44" y="350.50" font-size="13.45" text-anchor="start" fill="#141414" stroke="#141414" stroke-width="0.30" >-0.03</text>
<text x="513.52" y="390.20" font-size="13.45" text-anchor="start" fill="#141414" stroke="#141414" stroke-width="0.30" >-0.02</text>
<text x="513.51" y="430.10" font-size="13.45" text-anchor="start" fill="#141414" stroke="#141414" stroke-width="0.30" >-0.01</text>
<text x="525.33" y="469.60" font-size="13.45" text-anchor="start" fill="#141414" stroke="#141414" stroke-width="0.30" >0.0</text>
<text x="561.85" y="497.00" font-size="13.45" text-anchor="start" fill="#141414" stroke="#141414" stroke-width="0.30" >0.0</text>
<text x="598.38" y="497.00" font-size="13.45" text-anchor="start" fill="#141414" stroke="#141414" stroke-width="0.30" >0.01</text>
<text x="637.79" y="497.00" font-size="13.45" text-anchor="start" fill="#141414" stroke="#141414" stroke-width="0.30" >0.02</text>
<text x="677.05" y="497.00" font-size="13.45" text-anchor="start" fill="#141414" stroke="#141414" stroke-width="0.30" >0.03</text>
<text x="625.00" y="512.00" font-size="13.45" text-anchor="start" fill="#141414" stroke="#141414" stroke-width="0.30" ><tspan font-style="italic">s</tspan><tspan font-size="8.6" dy="1.4">1</tspan><tspan dy="-1.4">&#8203;</tspan></text>
<text x="49.60" y="405.40" font-size="13.45" text-anchor="start" fill="#141414" stroke="#141414" stroke-width="0.30" ><tspan font-style="italic">s</tspan><tspan font-size="8.6" dy="1.2">2</tspan><tspan dy="-1.2">&#8203;</tspan></text>
<defs><linearGradient id="cw" x1="0" y1="1" x2="0" y2="0"><stop offset="0.000" stop-color="#3b4cc0"/><stop offset="0.025" stop-color="#4257c9"/><stop offset="0.050" stop-color="#4961d2"/><stop offset="0.075" stop-color="#516ddb"/><stop offset="0.100" stop-color="#5977e3"/><stop offset="0.125" stop-color="#6282ea"/><stop offset="0.150" stop-color="#6a8bef"/><stop offset="0.175" stop-color="#7295f4"/><stop offset="0.200" stop-color="#7b9ff9"/><stop offset="0.225" stop-color="#84a7fc"/><stop offset="0.250" stop-color="#8db0fe"/><stop offset="0.275" stop-color="#96b7ff"/><stop offset="0.300" stop-color="#9ebeff"/><stop offset="0.325" stop-color="#a7c5fe"/><stop offset="0.350" stop-color="#afcafc"/><stop offset="0.375" stop-color="#b9d0f9"/><stop offset="0.400" stop-color="#c0d4f5"/><stop offset="0.425" stop-color="#c7d7f0"/><stop offset="0.450" stop-color="#cfdaea"/><stop offset="0.475" stop-color="#d6dce4"/><stop offset="0.500" stop-color="#dddcdc"/><stop offset="0.525" stop-color="#e3d9d3"/><stop offset="0.550" stop-color="#e9d5cb"/><stop offset="0.575" stop-color="#eed0c0"/><stop offset="0.600" stop-color="#f2cbb7"/><stop offset="0.625" stop-color="#f5c4ac"/><stop offset="0.650" stop-color="#f6bda2"/><stop offset="0.675" stop-color="#f7b599"/><stop offset="0.700" stop-color="#f7ac8e"/><stop offset="0.725" stop-color="#f6a385"/><stop offset="0.750" stop-color="#f4987a"/><stop offset="0.775" stop-color="#f18f71"/><stop offset="0.800" stop-color="#ee8468"/><stop offset="0.825" stop-color="#e9785d"/><stop offset="0.850" stop-color="#e36c55"/><stop offset="0.875" stop-color="#dd5f4b"/><stop offset="0.900" stop-color="#d65244"/><stop offset="0.925" stop-color="#cf453c"/><stop offset="0.950" stop-color="#c53334"/><stop offset="0.975" stop-color="#bd1f2d"/><stop offset="1.000" stop-color="#b40426"/></linearGradient></defs>
<rect x="745.00" y="316.40" width="8.20" height="163.50" fill="url(#cw)"/>
<line x1="753.20" y1="316.40" x2="755.80" y2="316.40" stroke="#777" stroke-width="1.00" />
<text x="758.19" y="321.20" font-size="13.30" text-anchor="start" fill="#141414" stroke="#141414" stroke-width="0.30" >100</text>
<line x1="751.60" y1="344.97" x2="753.20" y2="344.97" stroke="#999" stroke-width="0.60" />
<line x1="751.60" y1="337.77" x2="753.20" y2="337.77" stroke="#999" stroke-width="0.60" />
<line x1="751.60" y1="332.67" x2="753.20" y2="332.67" stroke="#999" stroke-width="0.60" />
<line x1="751.60" y1="328.70" x2="753.20" y2="328.70" stroke="#999" stroke-width="0.60" />
<line x1="751.60" y1="325.47" x2="753.20" y2="325.47" stroke="#999" stroke-width="0.60" />
<line x1="751.60" y1="322.73" x2="753.20" y2="322.73" stroke="#999" stroke-width="0.60" />
<line x1="751.60" y1="320.36" x2="753.20" y2="320.36" stroke="#999" stroke-width="0.60" />
<line x1="751.60" y1="318.27" x2="753.20" y2="318.27" stroke="#999" stroke-width="0.60" />
<line x1="753.20" y1="357.27" x2="755.80" y2="357.27" stroke="#777" stroke-width="1.00" />
<text x="758.19" y="360.20" font-size="13.30" text-anchor="start" fill="#141414" stroke="#141414" stroke-width="0.30" >10</text>
<line x1="751.60" y1="385.85" x2="753.20" y2="385.85" stroke="#999" stroke-width="0.60" />
<line x1="751.60" y1="378.65" x2="753.20" y2="378.65" stroke="#999" stroke-width="0.60" />
<line x1="751.60" y1="373.54" x2="753.20" y2="373.54" stroke="#999" stroke-width="0.60" />
<line x1="751.60" y1="369.58" x2="753.20" y2="369.58" stroke="#999" stroke-width="0.60" />
<line x1="751.60" y1="366.34" x2="753.20" y2="366.34" stroke="#999" stroke-width="0.60" />
<line x1="751.60" y1="363.61" x2="753.20" y2="363.61" stroke="#999" stroke-width="0.60" />
<line x1="751.60" y1="361.24" x2="753.20" y2="361.24" stroke="#999" stroke-width="0.60" />
<line x1="751.60" y1="359.15" x2="753.20" y2="359.15" stroke="#999" stroke-width="0.60" />
<line x1="753.20" y1="398.15" x2="755.80" y2="398.15" stroke="#777" stroke-width="1.00" />
<text x="758.19" y="402.80" font-size="13.30" text-anchor="start" fill="#141414" stroke="#141414" stroke-width="0.30" >1</text>
<line x1="751.60" y1="426.72" x2="753.20" y2="426.72" stroke="#999" stroke-width="0.60" />
<line x1="751.60" y1="419.52" x2="753.20" y2="419.52" stroke="#999" stroke-width="0.60" />
<line x1="751.60" y1="414.42" x2="753.20" y2="414.42" stroke="#999" stroke-width="0.60" />
<line x1="751.60" y1="410.45" x2="753.20" y2="410.45" stroke="#999" stroke-width="0.60" />
<line x1="751.60" y1="407.22" x2="753.20" y2="407.22" stroke="#999" stroke-width="0.60" />
<line x1="751.60" y1="404.48" x2="753.20" y2="404.48" stroke="#999" stroke-width="0.60" />
<line x1="751.60" y1="402.11" x2="753.20" y2="402.11" stroke="#999" stroke-width="0.60" />
<line x1="751.60" y1="400.02" x2="753.20" y2="400.02" stroke="#999" stroke-width="0.60" />
<line x1="753.20" y1="439.02" x2="755.80" y2="439.02" stroke="#777" stroke-width="1.00" />
<text x="758.68" y="442.80" font-size="13.30" text-anchor="start" fill="#141414" stroke="#141414" stroke-width="0.30" >0.1</text>
<line x1="751.60" y1="467.60" x2="753.20" y2="467.60" stroke="#999" stroke-width="0.60" />
<line x1="751.60" y1="460.40" x2="753.20" y2="460.40" stroke="#999" stroke-width="0.60" />
<line x1="751.60" y1="455.29" x2="753.20" y2="455.29" stroke="#999" stroke-width="0.60" />
<line x1="751.60" y1="451.33" x2="753.20" y2="451.33" stroke="#999" stroke-width="0.60" />
<line x1="751.60" y1="448.09" x2="753.20" y2="448.09" stroke="#999" stroke-width="0.60" />
<line x1="751.60" y1="445.36" x2="753.20" y2="445.36" stroke="#999" stroke-width="0.60" />
<line x1="751.60" y1="442.99" x2="753.20" y2="442.99" stroke="#999" stroke-width="0.60" />
<line x1="751.60" y1="440.90" x2="753.20" y2="440.90" stroke="#999" stroke-width="0.60" />
<line x1="753.20" y1="479.90" x2="755.80" y2="479.90" stroke="#777" stroke-width="1.00" />
<text x="758.68" y="483.60" font-size="13.30" text-anchor="start" fill="#141414" stroke="#141414" stroke-width="0.30" >0.01</text>
<text transform="translate(736.6,399) rotate(-90)" font-size="13.45" text-anchor="middle" fill="#141414" stroke="#141414" stroke-width="0.30"><tspan font-style="italic">H</tspan><tspan font-size="8.6" dy="1.6">L</tspan><tspan dy="-1.6">&#8203;</tspan> model/drift</text></svg>
</body></html>
